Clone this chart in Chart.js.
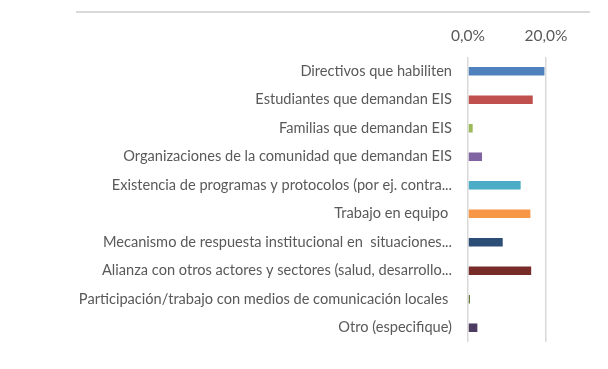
<!DOCTYPE html>
<html>
<head>
<meta charset="utf-8">
<script src="https://cdn.jsdelivr.net/npm/chart.js@4"></script>
<style>
  html, body { margin: 0; padding: 0; background: #fff; }
  #wrap { position: relative; width: 608px; height: 369px; }
  #topLine { position: absolute; left: 76px; top: 11px; width: 514px; height: 2px; background: #d9d9d9; }
</style>
</head>
<body>
<div id="wrap">
  <canvas id="chart" width="608" height="369"></canvas>
  <div id="topLine"></div>
</div>
<script>
const categorias = [
    'Directivos que habiliten',
    'Estudiantes que demandan EIS',
    'Familias que demandan EIS',
    'Organizaciones de la comunidad que demandan EIS',
    'Existencia de programas y protocolos (por ej. contra...',
    'Trabajo en equipo ',
    'Mecanismo de respuesta institucional en  situaciones...',
    'Alianza con otros actores y sectores (salud, desarrollo...',
    'Participación/trabajo con medios de comunicación locales ',
    'Otro (especifique)'
];

// porcentajes
const valores = [19.6, 16.6, 1.2, 3.6, 13.5, 16.0, 8.9, 16.2, 0.5, 2.4];

const colores = ['#4f81bd', '#c0504d', '#9bbb59', '#8064a2', '#4bacc6',
                 '#f79646', '#2c4d75', '#772c2a', '#5f7530', '#4d3b62'];

const ticksX = [0, 20];

const TEXTO = '#595959';
const FUENTE = 'Lato';

const chart = new Chart(document.getElementById('chart'), {
    type: 'bar',
    data: {
        labels: categorias,
        datasets: [{
            data: valores,
            backgroundColor: colores,
            categoryPercentage: 1,
            barPercentage: 0.3
        }]
    },
    options: {
        indexAxis: 'y',
        responsive: false,
        animation: false,
        layout: { padding: { left: 0, right: 62, top: 0, bottom: 27 } },
        plugins: {
            legend: { display: false },
            tooltip: { enabled: false }
        },
        scales: {
            x: {
                position: 'top',
                min: 0,
                max: 20,
                afterBuildTicks: s => { s.ticks = ticksX.map(v => ({ value: v })); },
                afterFit: s => { s.height = 57; },
                ticks: {
                    color: TEXTO,
                    font: { family: FUENTE, size: 15.5 },
                    padding: 12,
                    callback: v => v.toFixed(1).replace('.', ',') + '%'
                },
                grid: { color: '#d9d9d9', lineWidth: 1.5, drawTicks: false },
                border: { display: false }
            },
            y: {
                afterFit: s => { s.width = 468; },
                ticks: {
                    color: TEXTO,
                    font: { family: FUENTE, size: 14.6 },
                    padding: 8
                },
                grid: { display: false },
                border: { display: false }
            }
        }
    }
});
</script>
</body>
</html>
